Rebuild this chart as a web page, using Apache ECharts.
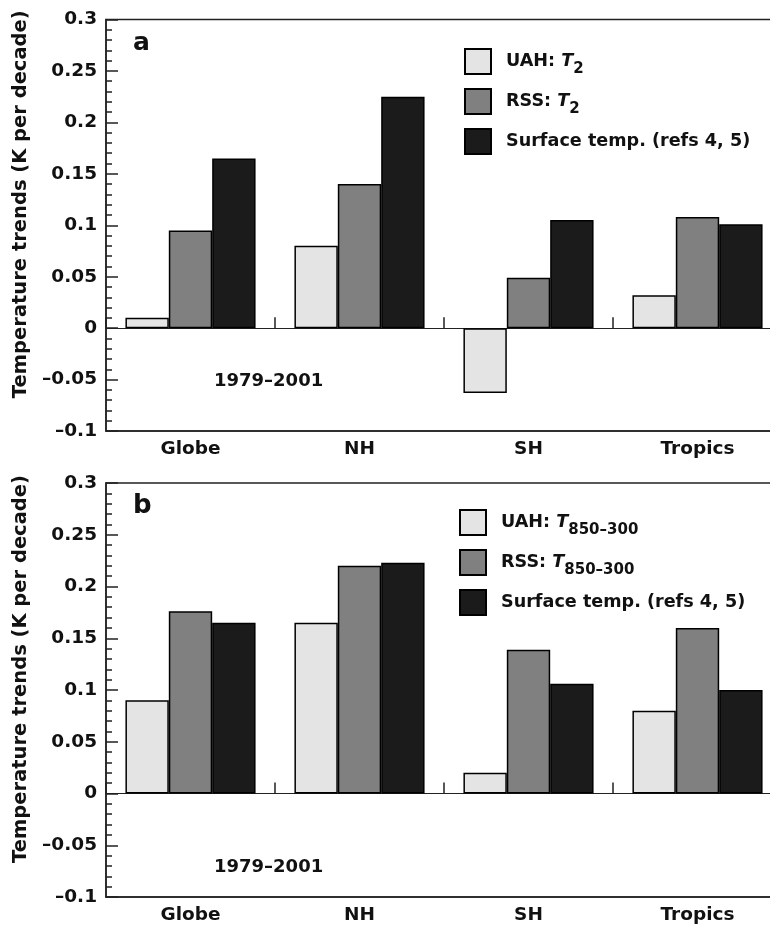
<!DOCTYPE html>
<html><head><meta charset="utf-8">
<script src="https://cdn.jsdelivr.net/npm/echarts@6/dist/echarts.min.js"></script>
<style>html,body{margin:0;padding:0;background:#fff}#c{width:770px;height:934px}</style>
</head><body><div id="c"></div>
<script>
const categories = ['Globe', 'NH', 'SH', 'Tropics'];
// Panel a
const uahA = [0.010, 0.080, -0.063, 0.032];
const rssA = [0.095, 0.140, 0.049, 0.108];
const sfcA = [0.165, 0.225, 0.105, 0.101];
// Panel b
const uahB = [0.090, 0.165, 0.020, 0.080];
const rssB = [0.176, 0.220, 0.139, 0.160];
const sfcB = [0.165, 0.223, 0.106, 0.100];
const yTicks = [-0.1, -0.05, 0, 0.05, 0.1, 0.15, 0.2, 0.25, 0.3];
const yTickLabels = ['\u20130.1', '\u20130.05', '0', '0.05', '0.1', '0.15', '0.2', '0.25', '0.3'];
const yAxisTitle = 'Temperature trends (K per decade)';
const periodText = '1979\u20132001';
const panelLabels = ['a', 'b'];
const legendA = { ua: ['UAH: ', 'T', '2'], ra: ['RSS: ', 'T', '2'], sa: ['Surface temp. (refs 4, 5)'] };
const legendB = { ub: ['UAH: ', 'T', '850\u2013300'], rb: ['RSS: ', 'T', '850\u2013300'], sb: ['Surface temp. (refs 4, 5)'] };

const FONT = 'DejaVu Sans';
const INK = '#111';
const colors = { uah: '#e4e4e4', rss: '#808080', sfc: '#1b1b1b' };

const chart = echarts.init(document.getElementById('c'), null, { renderer: 'canvas' });

function yAxisCfg(gridIndex) {
  return {
    type: 'value', gridIndex, min: -0.1, max: 0.3, interval: 0.05,
    name: yAxisTitle, nameLocation: 'middle', nameGap: 66,
    nameTextStyle: { fontFamily: FONT, fontWeight: 'bold', fontSize: 19.5, color: INK, padding: [0, 0, 0, 42] },
    axisLine: { show: true, lineStyle: { color: '#222', width: 1.5 } },
    axisTick: { show: true, inside: true, length: 12, lineStyle: { color: '#222', width: 1.5 } },
    minorTick: { show: true, splitNumber: 5, length: 6, lineStyle: { color: '#222', width: 1.5 } },
    splitLine: { show: false },
    axisLabel: {
      margin: 9, fontFamily: FONT, fontWeight: 'bold', fontSize: 18.5, color: INK,
      formatter: v => { const i = yTicks.findIndex(t => Math.abs(t - v) < 1e-9); return i >= 0 ? yTickLabels[i] : ''; }
    }
  };
}
function xLabelAxis(gridIndex) {
  return {
    type: 'category', gridIndex, data: categories, position: 'bottom',
    axisLine: { show: true, onZero: false, lineStyle: { color: '#222', width: 1.5 } },
    axisTick: { show: false },
    axisLabel: { margin: 9, fontFamily: FONT, fontWeight: 'bold', fontSize: 18.5, color: INK }
  };
}
function xZeroAxis(gridIndex) {
  return {
    type: 'category', gridIndex, data: categories, position: 'bottom',
    axisLine: { show: true, onZero: true, lineStyle: { color: '#222', width: 1.2 } },
    axisTick: { show: true, inside: true, length: 11, lineStyle: { color: '#222', width: 1.5 } },
    axisLabel: { show: false }
  };
}
function bar(name, data, color, xi, yi) {
  return {
    type: 'bar', name, data, xAxisIndex: xi, yAxisIndex: yi,
    barGap: '0%', barCategoryGap: '23%',
    itemStyle: { color, borderColor: '#000', borderWidth: 1.5 },
    emphasis: { disabled: true }
  };
}
function legendCfg(map, top, left) {
  return {
    data: Object.keys(map), orient: 'vertical', top, left, padding: 0,
    itemWidth: 26, itemHeight: 25, itemGap: 11, icon: 'rect', selectedMode: false,
    textStyle: {
      fontFamily: FONT, fontWeight: 'bold', fontSize: 17.6, color: INK,
      rich: {
        g: { width: 10 },
        n: { fontFamily: FONT, fontWeight: 'bold', fontSize: 17.6, color: INK },
        i: { fontFamily: FONT, fontWeight: 'bold', fontStyle: 'italic', fontSize: 17.6, color: INK },
        s: { fontFamily: FONT, fontWeight: 'bold', fontSize: 15, color: INK, padding: [16, 0, 0, 0] }
      }
    },
    formatter: key => {
      const p = map[key];
      return p.length === 1 ? '{g|}{n|' + p[0] + '}' : '{g|}{n|' + p[0] + '}{i|' + p[1] + '}{s|' + p[2] + '}';
    }
  };
}
function txt(text, x, y, size) {
  return { type: 'text', left: x, top: y, style: { text, fontFamily: FONT, fontWeight: 'bold', fontSize: size, fill: INK } };
}

chart.setOption({
  animation: false,
  backgroundColor: '#fff',
  grid: [
    { left: 106, top: 19.5, width: 676, height: 411.5, show: true, borderColor: '#222', borderWidth: 1.5, containLabel: false, outerBoundsMode: 'none' },
    { left: 106, top: 483, width: 676, height: 414, show: true, borderColor: '#222', borderWidth: 1.5, containLabel: false, outerBoundsMode: 'none' }
  ],
  xAxis: [xLabelAxis(0), xZeroAxis(0), xLabelAxis(1), xZeroAxis(1)],
  yAxis: [yAxisCfg(0), yAxisCfg(1)],
  legend: [legendCfg(legendA, 48, 464), legendCfg(legendB, 509, 459)],
  series: [
    bar('ua', uahA, colors.uah, 0, 0), bar('ra', rssA, colors.rss, 0, 0), bar('sa', sfcA, colors.sfc, 0, 0),
    bar('ub', uahB, colors.uah, 2, 1), bar('rb', rssB, colors.rss, 2, 1), bar('sb', sfcB, colors.sfc, 2, 1)
  ],
  graphic: [
    txt(panelLabels[0], 133, 31, 25),
    txt(panelLabels[1], 133, 493, 26),
    txt(periodText, 214, 372, 18),
    txt(periodText, 214, 858, 18)
  ]
});
</script></body></html>
